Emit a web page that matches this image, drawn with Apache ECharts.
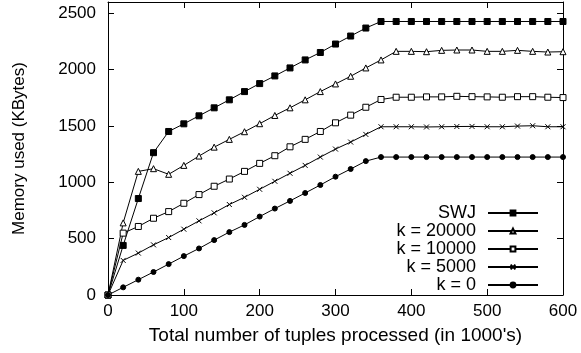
<!DOCTYPE html>
<html><head><meta charset="utf-8">
<script src="https://cdn.jsdelivr.net/npm/echarts@6/dist/echarts.min.js"></script>
<style>html,body{margin:0;padding:0;background:#fff}#c{width:581px;height:353px}</style>
</head><body><div id="c"></div>
<script>
const xValues = [0,20,40,60,80,100,120,140,160,180,200,220,240,260,280,300,320,340,360,380,400,420,440,460,480,500,520,540,560,580,600];
const swj    = [0,440,856,1263,1451,1519,1590,1661,1732,1805,1876,1944,2015,2086,2152,2227,2298,2369,2427,2427,2427,2427,2427,2427,2427,2427,2427,2427,2427,2427,2427];
const k20000 = [0,640,1097,1121,1071,1150,1233,1312,1381,1449,1520,1593,1661,1732,1805,1873,1941,2015,2086,2162,2162,2159,2171,2174,2174,2162,2162,2171,2162,2156,2159];
const k10000 = [0,549,608,681,740,814,891,965,1029,1097,1168,1236,1315,1381,1451,1528,1596,1666,1735,1755,1755,1758,1758,1763,1760,1758,1755,1760,1760,1755,1752];
const k5000  = [0,307,372,445,510,584,658,729,803,867,938,1009,1080,1150,1224,1295,1357,1425,1493,1493,1493,1491,1493,1495,1496,1493,1493,1499,1502,1493,1493];
const k0     = [0,68,136,204,274,345,413,487,558,622,696,767,835,905,976,1050,1118,1188,1224,1224,1224,1224,1224,1224,1224,1224,1224,1224,1224,1224,1224];
const seriesNames = ['SWJ','k = 20000','k = 10000','k = 5000','k = 0'];
const xTitle = "Total number of tuples processed (in 1000's)";
const yTitle = 'Memory used (KBytes)';

const FONT = 'Liberation Sans, Arial, sans-serif';
const pair = arr => xValues.map((x,i)=>[x, arr[i]]);
const mk = (name, data, symbol, size, filled) => ({
  name, type:'line', data: pair(data), symbol, symbolSize:size, showSymbol:true,
  lineStyle:{color:'#000', width:1},
  itemStyle:{color: filled ? '#000' : '#fff', borderColor:'#000', borderWidth:1},
  emphasis:{disabled:true}, animation:false
});
const chart = echarts.init(document.getElementById('c'));
chart.setOption({
  backgroundColor:'#fff',
  animation:false,
  grid:{left:108, right:18, top:2, bottom:58, containLabel:false},
  xAxis:[{type:'value', min:0, max:600, interval:100, position:'bottom',
    name:xTitle, nameLocation:'middle', nameGap:31,
    nameTextStyle:{fontFamily:FONT, fontSize:19, color:'#000'},
    axisLine:{lineStyle:{color:'#000', width:1}},
    axisTick:{inside:true, length:6, lineStyle:{color:'#000'}},
    axisLabel:{fontFamily:FONT, fontSize:17, color:'#000', margin:8},
    splitLine:{show:false}},
   {type:'value', min:0, max:600, interval:100, position:'top',
    axisLine:{show:true, onZero:false, lineStyle:{color:'#000', width:1}},
    axisTick:{inside:true, length:6, lineStyle:{color:'#000'}},
    axisLabel:{show:false}, splitLine:{show:false}}],
  yAxis:[{type:'value', min:0, max:2600, interval:500, position:'left',
    name:yTitle, nameLocation:'middle', nameGap:80,
    nameTextStyle:{fontFamily:FONT, fontSize:17, color:'#000'},
    axisLine:{show:true, onZero:false, lineStyle:{color:'#000', width:1}},
    axisTick:{show:true, inside:true, length:6, lineStyle:{color:'#000'}},
    axisLabel:{fontFamily:FONT, fontSize:17, color:'#000', margin:12,
      formatter: v => (v % 500 === 0 ? String(v) : '')},
    splitLine:{show:false}},
   {type:'value', min:0, max:2600, interval:500, position:'right',
    axisLine:{show:true, onZero:false, lineStyle:{color:'#000', width:1}},
    axisTick:{show:true, inside:true, length:6, lineStyle:{color:'#000'}},
    axisLabel:{show:false}, splitLine:{show:false}}],
  legend:{orient:'vertical', right:42, bottom:59, align:'right', padding:0,
    itemWidth:50, itemHeight:6, itemGap:0,
    textStyle:{fontFamily:FONT, fontSize:18, color:'#000', lineHeight:15.7, padding:[0,7,0,0]},
    data:seriesNames},
  series:[
    mk(seriesNames[0], swj, 'rect', 6, true),
    mk(seriesNames[1], k20000, 'triangle', 6, false),
    mk(seriesNames[2], k10000, 'rect', 6, false),
    mk(seriesNames[3], k5000, 'path://M0,0L10,10M10,0L0,10', 5, false),
    mk(seriesNames[4], k0, 'circle', 5, true)
  ]
});
</script></body></html>
